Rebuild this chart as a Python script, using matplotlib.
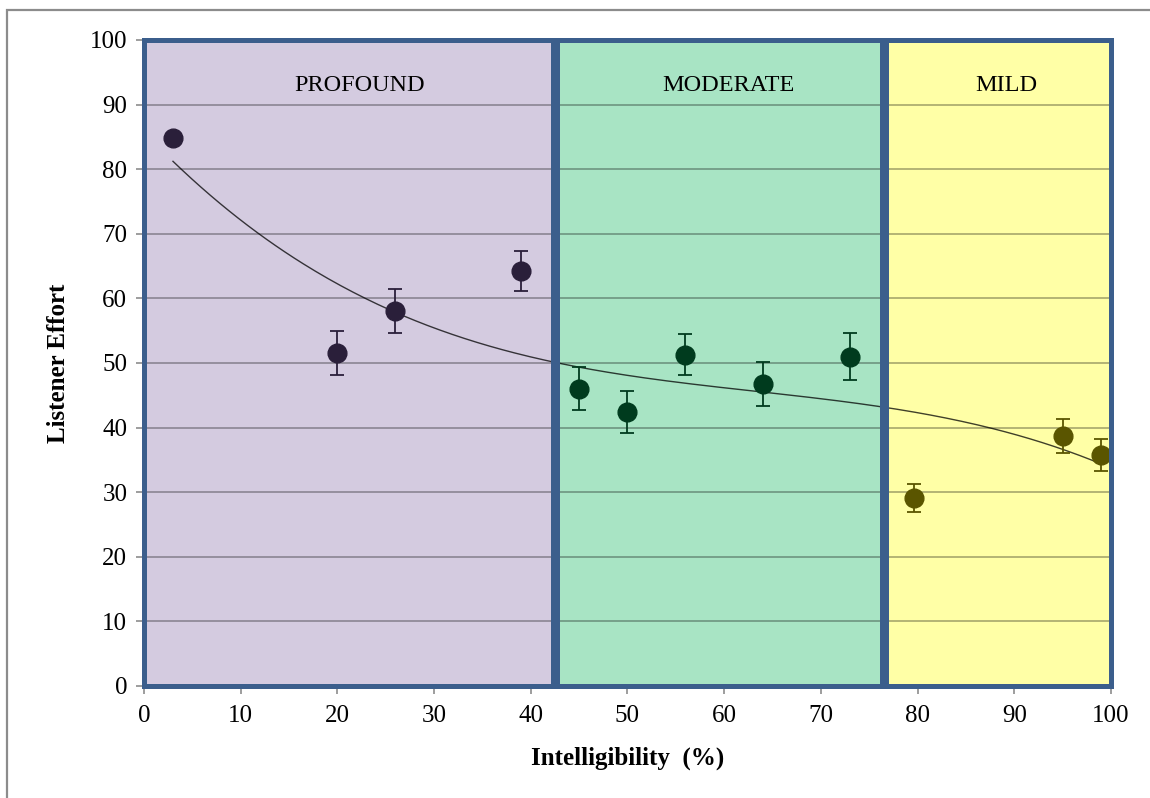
import numpy as np
import matplotlib
matplotlib.use('Agg')
import matplotlib.pyplot as plt
from matplotlib.patches import Rectangle

plt.rcParams['font.family'] = ['Liberation Serif', 'DejaVu Serif']

# 数据
profound_x = [3, 20, 26, 39]
profound_y = [84.8, 51.5, 58.1, 64.2]
profound_err = [0.8, 3.4, 3.4, 3.1]

moderate_x = [45, 50, 56, 64, 73]
moderate_y = [46.0, 42.4, 51.3, 46.8, 51.0]
moderate_err = [3.3, 3.2, 3.2, 3.4, 3.6]

mild_x = [79.6, 95, 99]
mild_y = [29.1, 38.7, 35.8]
mild_err = [2.2, 2.6, 2.5]

# 区域边界
region_names = ['PROFOUND', 'MODERATE', 'MILD']
region_left = [0, 42.7, 76.7]
region_right = [42.3, 76.3, 100]
region_fill = ['#D4CBE0', '#A8E4C4', '#FFFFA6']
marker_color = ['#2A1F3A', '#003B1E', '#5A5500']
label_x = [22.3, 60.4, 89.2]

fig = plt.figure(figsize=(11.5, 7.98), dpi=100)
ax = fig.add_axes([0.1252, 0.1404, 0.8408, 0.8095])

# 外框
fig.patches.append(Rectangle((7 / 1150, -0.1), 1.2, 1.1 - 10 / 798,
                             transform=fig.transFigure, fill=False,
                             edgecolor='#8C8C8C', linewidth=1.6, clip_on=False))

# 区域填充
for left, right, col in zip(region_left, region_right, region_fill):
    ax.add_patch(Rectangle((left, 0), right - left, 100, facecolor=col,
                           edgecolor='none', zorder=0))

# 网格线
for yv in range(10, 100, 10):
    ax.axhline(yv, color='#000000', alpha=0.35, linewidth=1.2, zorder=1)

# 趋势线 (三次多项式拟合)
all_x = np.array(profound_x + moderate_x + mild_x)
all_y = np.array(profound_y + moderate_y + mild_y)
coef = np.polyfit(all_x, all_y, 3)
xs = np.linspace(all_x.min(), all_x.max(), 300)
ax.plot(xs, np.polyval(coef, xs), color='#000000', alpha=0.75, linewidth=1.0, zorder=2)

# 数据点
for xs_, ys_, es_, mc in zip([profound_x, moderate_x, mild_x],
                             [profound_y, moderate_y, mild_y],
                             [profound_err, moderate_err, mild_err], marker_color):
    ax.errorbar(xs_, ys_, yerr=es_, fmt='o', color=mc, markersize=13.5,
                ecolor=mc, elinewidth=1.3, capsize=5.2, capthick=1.3, zorder=3)

# 区域边框
for left, right in zip(region_left, region_right):
    ax.add_patch(Rectangle((left, 0), right - left, 100, facecolor='none',
                           edgecolor='#3B5E8C', linewidth=3.6, zorder=4,
                           clip_on=False))

for name, lx in zip(region_names, label_x):
    ax.text(lx, 93.0, name, ha='center', va='center', fontsize=17.5, zorder=5)

ax.set_xlim(0, 100)
ax.set_ylim(0, 100)
ax.set_xticks(range(0, 101, 10))
ax.set_yticks(range(0, 101, 10))
ax.tick_params(axis='both', labelsize=18, color='#8C8C8C', length=6, width=1.2)
ax.tick_params(axis='x', pad=8)
ax.tick_params(axis='y', pad=6)
for sp in ax.spines.values():
    sp.set_visible(False)

ax.set_xlabel('Intelligibility  (%)', fontsize=18, fontweight='bold', labelpad=14)
ax.set_ylabel('Listener Effort', fontsize=18, fontweight='bold', labelpad=14)

fig.savefig('out.png', dpi=100)
